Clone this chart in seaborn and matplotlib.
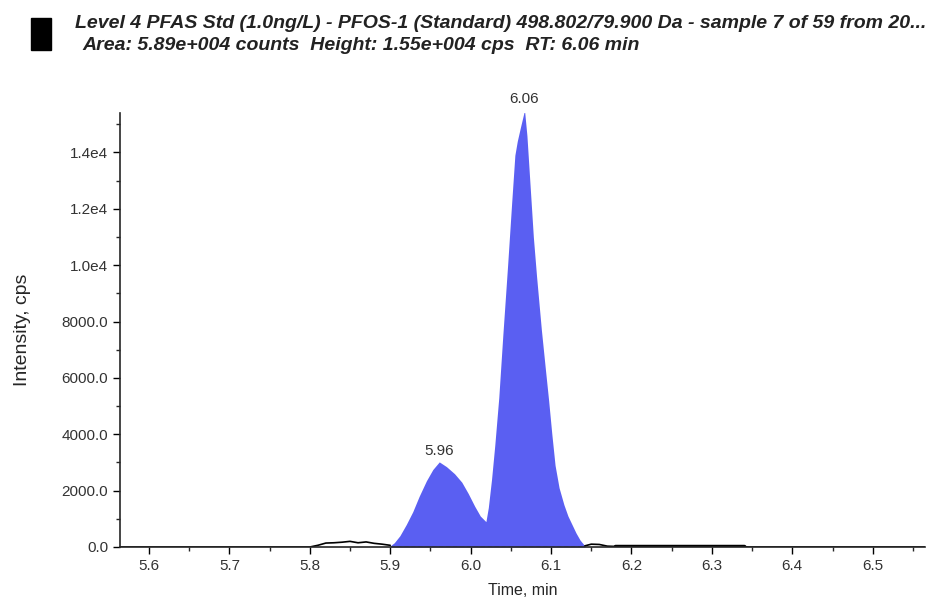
import numpy as np
import pandas as pd
import seaborn as sns
import matplotlib.pyplot as plt
from matplotlib.patches import Rectangle
from matplotlib.ticker import MultipleLocator, FuncFormatter

# chromatogram trace (time in min, intensity in cps)
time_pre = [5.564, 5.800, 5.810, 5.820, 5.830, 5.840, 5.850, 5.860, 5.870, 5.880, 5.890, 5.900]
int_pre = [0, 0, 60, 140, 150, 170, 200, 150, 180, 130, 100, 60]

time_peak = [5.900, 5.905, 5.912, 5.920, 5.928, 5.936, 5.945, 5.953, 5.961, 5.970,
             5.980, 5.989, 5.997, 6.005, 6.012, 6.019, 6.022, 6.026, 6.030, 6.035,
             6.040, 6.046, 6.051, 6.055, 6.058, 6.062, 6.067, 6.070, 6.074, 6.078,
             6.082, 6.088, 6.093, 6.097, 6.101, 6.105, 6.110, 6.116, 6.121, 6.126,
             6.131, 6.136, 6.142]
int_peak = [40, 150, 400, 800, 1250, 1800, 2350, 2750, 3020, 2850,
            2600, 2300, 1900, 1450, 1100, 900, 1400, 2400, 3600, 5300,
            7500, 10000, 12200, 13900, 14400, 14900, 15500, 14600, 12800, 11000,
            9600, 7700, 6300, 5200, 4000, 2900, 2100, 1500, 1100, 800,
            500, 250, 40]

time_post = [6.142, 6.150, 6.160, 6.170, 6.180, 6.340, 6.345, 6.565]
int_post = [40, 100, 90, 30, 20, 20, 0, 0]

peak_labels = ["5.96", "6.06"]
peak_times = [5.961, 6.067]
peak_heights = [3020, 15500]

title1 = "Level 4 PFAS Std (1.0ng/L) - PFOS-1 (Standard) 498.802/79.900 Da - sample 7 of 59 from 20..."
title2 = "Area: 5.89e+004 counts  Height: 1.55e+004 cps  RT: 6.06 min"

sns.set_style("ticks")
plt.rcParams['font.family'] = ['Liberation Sans', 'DejaVu Sans']

fig = plt.figure(figsize=(9.41, 5.98), dpi=100)
ax = fig.add_axes([120 / 941, 1 - 547 / 598, 805 / 941, 434 / 598])

pre = pd.DataFrame({"t": time_pre, "i": int_pre})
peak = pd.DataFrame({"t": time_peak, "i": int_peak})
post = pd.DataFrame({"t": time_post, "i": int_post})

ax.fill_between(peak["t"], 0, peak["i"], color="#5A5FF2", linewidth=0)
sns.lineplot(data=pre, x="t", y="i", ax=ax, color="black", linewidth=1.2, sort=False)
sns.lineplot(data=post, x="t", y="i", ax=ax, color="black", linewidth=1.2, sort=False)
ax.plot([6.18, 6.34], [20, 20], color="black", linewidth=2.5)
ax.plot([time_peak[0], time_peak[-1]], [0, 0], color="#1a1a6e", linestyle=(0, (3, 2)), linewidth=1)

for lab, t, h in zip(peak_labels, peak_times, peak_heights):
    ax.annotate(lab, (t, h), xytext=(0, 3), textcoords="offset points",
                ha="center", va="bottom", fontsize=11, color="#333333", annotation_clip=False)

ax.set_xlim(5.564, 6.565)
ax.set_ylim(0, 15400)
ax.xaxis.set_major_locator(MultipleLocator(0.1))
ax.xaxis.set_minor_locator(MultipleLocator(0.05))
ax.yaxis.set_major_locator(MultipleLocator(2000))
ax.yaxis.set_minor_locator(MultipleLocator(1000))


def yfmt(v, pos):
    if v >= 10000:
        return f"{v / 1e4:.1f}e4"
    return f"{v:.1f}"


ax.yaxis.set_major_formatter(FuncFormatter(yfmt))
ax.xaxis.set_major_formatter(FuncFormatter(lambda v, p: f"{v:.1f}"))
ax.tick_params(axis="both", which="major", length=5, width=1, labelsize=11, colors="black")
ax.tick_params(axis="both", which="minor", length=3, width=1)
for lab in ax.get_xticklabels() + ax.get_yticklabels():
    lab.set_color("#333333")
ax.spines["top"].set_visible(False)
ax.spines["right"].set_visible(False)
ax.spines["left"].set_linewidth(1.2)
ax.spines["bottom"].set_linewidth(1.2)
ax.set_xlabel("Time, min", fontsize=11.5, labelpad=7)
ax.set_ylabel("Intensity, cps", fontsize=14, labelpad=22)

fig.patches.append(Rectangle((31 / 941, 1 - 50 / 598), 20 / 941, 32 / 598,
                             transform=fig.transFigure, color="black"))
fig.text(75 / 941, 1 - 23 / 598, title1, fontsize=14, fontweight="bold",
         fontstyle="italic", va="center", ha="left", color="#222222")
fig.text(82 / 941, 1 - 45 / 598, title2, fontsize=14, fontweight="bold",
         fontstyle="italic", va="center", ha="left", color="#222222")

fig.savefig("out.png", dpi=100)
